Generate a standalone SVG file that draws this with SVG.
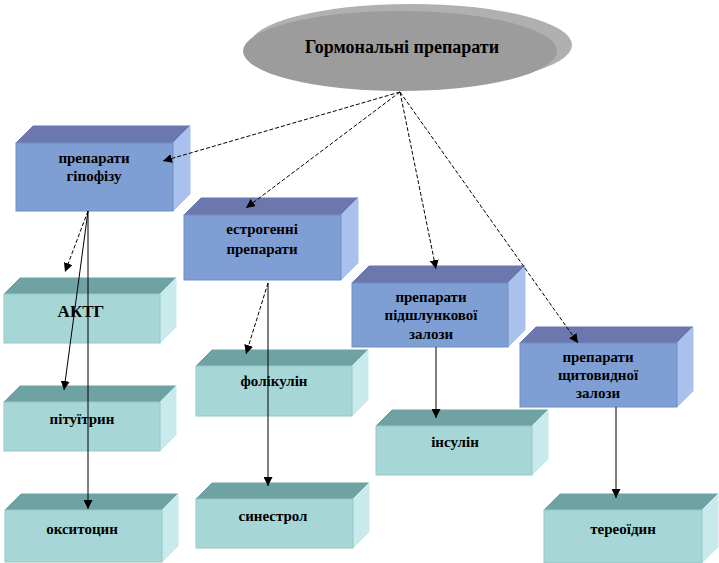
<svg xmlns="http://www.w3.org/2000/svg" width="719" height="563" viewBox="0 0 719 563">
<defs>
<marker id="arr" viewBox="0 0 10 10" refX="10" refY="5" markerWidth="9" markerHeight="9" markerUnits="userSpaceOnUse" orient="auto">
<path d="M0,0 L10,5 L0,10 z" fill="#000"/>
</marker>
<style>
.bf{fill:#7f9fd4;stroke:#6f8fc4;stroke-width:1}
.bt{fill:#6b77ad;stroke:#6b77ad;stroke-width:1}
.br{fill:#a9c1ec;stroke:#a9c1ec;stroke-width:1}
.tf{fill:#a6d6d6;stroke:#96c6c6;stroke-width:1}
.tt{fill:#6fa3a3;stroke:#6fa3a3;stroke-width:1}
.tr{fill:#c9eaea;stroke:#c9eaea;stroke-width:1}
.lbl{font-family:'Liberation Serif','DejaVu Serif',serif;font-weight:bold;font-size:15px;fill:#000;text-anchor:middle}
.c{stroke:#000;stroke-width:1;fill:none;marker-end:url(#arr)}
.d{stroke-dasharray:4,2}
</style>
</defs>
<rect width="719" height="563" fill="#fff"/>
<g id="root">
<ellipse cx="411" cy="45" rx="161" ry="41" fill="#b0b0b0"/>
<ellipse cx="400" cy="51" rx="157" ry="40" fill="#9c9c9c"/>
<text class="lbl" x="402" y="53" font-family="Liberation Serif, serif" style="font-size:18px">Гормональні препарати</text>
</g>
<g id="n1">
<polygon class="bt" points="16,143 33,126 190,126 173,143"/>
<polygon class="br" points="173,143 190,126 190,194 173,211"/>
<rect class="bf" x="16" y="143" width="157" height="68"/>
<text class="lbl" x="94" y="163">препарати</text>
<text class="lbl" x="94" y="181">гіпофізу</text>
</g>
<g id="n2">
<polygon class="bt" points="184,215 201,198 358,198 341,215"/>
<polygon class="br" points="341,215 358,198 358,263 341,280"/>
<rect class="bf" x="184" y="215" width="157" height="65"/>
<text class="lbl" x="262" y="234">естрогенні</text>
<text class="lbl" x="262" y="254">препарати</text>
</g>
<g id="n3">
<polygon class="bt" points="352,283 369,266 525,266 508,283"/>
<polygon class="br" points="508,283 525,266 525,330 508,347"/>
<rect class="bf" x="352" y="283" width="156" height="64"/>
<text class="lbl" x="431" y="302">препарати</text>
<text class="lbl" x="431" y="320">підшлункової</text>
<text class="lbl" x="431" y="339">залози</text>
</g>
<g id="n4">
<polygon class="bt" points="520,343 536,327 693,327 677,343"/>
<polygon class="br" points="677,343 693,327 693,391 677,407"/>
<rect class="bf" x="520" y="343" width="157" height="64"/>
<text class="lbl" x="598" y="362">препарати</text>
<text class="lbl" x="598" y="380">щитовидної</text>
<text class="lbl" x="598" y="398">залози</text>
</g>
<g id="n5">
<polygon class="tt" points="4,294 20,278 176,278 160,294"/>
<polygon class="tr" points="160,294 176,278 176,327 160,343"/>
<rect class="tf" x="4" y="294" width="156" height="49"/>
<text class="lbl" x="81" y="317" style="font-size:17px">АКТГ</text>
</g>
<g id="n6">
<polygon class="tt" points="4,402 20,386 176,386 160,402"/>
<polygon class="tr" points="160,402 176,386 176,435 160,451"/>
<rect class="tf" x="4" y="402" width="156" height="49"/>
<text class="lbl" x="82" y="424">пітуїтрин</text>
</g>
<g id="n7">
<polygon class="tt" points="5,510 21,494 178,494 162,510"/>
<polygon class="tr" points="162,510 178,494 178,546 162,562"/>
<rect class="tf" x="5" y="510" width="157" height="52"/>
<text class="lbl" x="82" y="534">окситоцин</text>
</g>
<g id="n8">
<polygon class="tt" points="196,366 212,350 368,350 352,366"/>
<polygon class="tr" points="352,366 368,350 368,400 352,416"/>
<rect class="tf" x="196" y="366" width="156" height="50"/>
<text class="lbl" x="274" y="386">фолікулін</text>
</g>
<g id="n9">
<polygon class="tt" points="376,426 392,410 548,410 532,426"/>
<polygon class="tr" points="532,426 548,410 548,459 532,475"/>
<rect class="tf" x="376" y="426" width="156" height="49"/>
<text class="lbl" x="455" y="447">інсулін</text>
</g>
<g id="n10">
<polygon class="tt" points="196,499 212,483 369,483 353,499"/>
<polygon class="tr" points="353,499 369,483 369,532 353,548"/>
<rect class="tf" x="196" y="499" width="157" height="49"/>
<text class="lbl" x="273" y="521">синестрол</text>
</g>
<g id="n11">
<polygon class="tt" points="544,510 560,494 718,494 702,510"/>
<polygon class="tr" points="702,510 718,494 718,547 702,563"/>
<rect class="tf" x="544" y="510" width="158" height="53"/>
<text class="lbl" x="623" y="534">тереоїдин</text>
</g>
<g id="connectors">
<line class="c d" x1="400" y1="92" x2="163" y2="161"/>
<line class="c d" x1="400" y1="92" x2="246" y2="208"/>
<line class="c d" x1="400" y1="92" x2="436" y2="269"/>
<line class="c d" x1="400" y1="92" x2="578" y2="343"/>
<line class="c d" x1="88" y1="211" x2="65" y2="272"/>
<line class="c" x1="88" y1="211" x2="64" y2="390"/>
<line class="c" x1="88" y1="211" x2="88" y2="509"/>
<line class="c d" x1="268" y1="283" x2="246" y2="354"/>
<line class="c" x1="268" y1="283" x2="268" y2="486"/>
<line class="c" x1="436" y1="347" x2="436" y2="418"/>
<line class="c" x1="616" y1="407" x2="616" y2="498"/>
</g>
</svg>
